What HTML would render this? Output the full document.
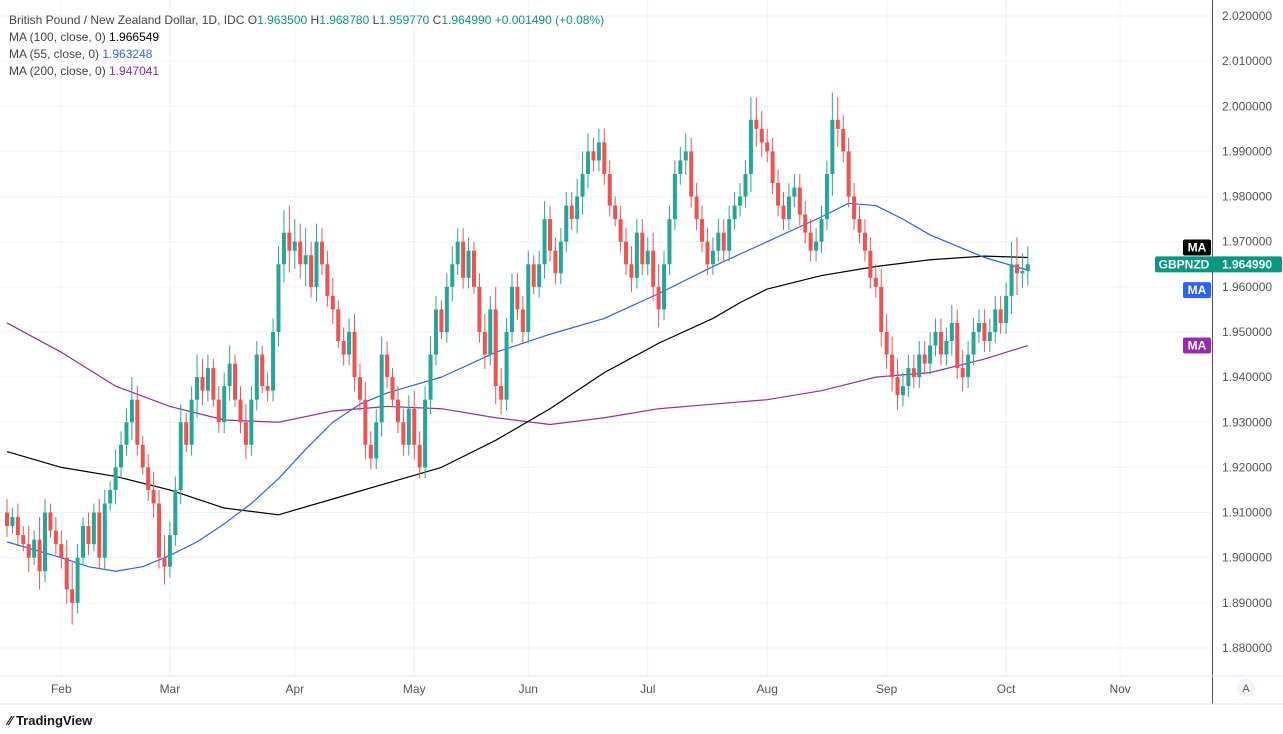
<!DOCTYPE html>
<html><head><meta charset="utf-8">
<style>
html,body{margin:0;padding:0;background:#fff;width:1283px;height:734px;overflow:hidden;font-family:"Liberation Sans",sans-serif;}
svg text{font-family:"Liberation Sans",sans-serif;}
</style></head>
<body>
<svg id="chart" width="1283" height="734" xmlns="http://www.w3.org/2000/svg">
<g id="grid"></g>
<g id="ma-lines"></g>
<g id="candles"></g>
<g id="yaxis"></g>
<g id="xaxis"></g>
<g font-size="12">
<text x="9" y="24" fill="#444">British Pound / New Zealand Dollar, 1D, IDC  <tspan fill="#444">O</tspan><tspan fill="#089981">1.963500</tspan><tspan fill="#444">  H</tspan><tspan fill="#089981">1.968780</tspan><tspan fill="#444">  L</tspan><tspan fill="#089981">1.959770</tspan><tspan fill="#444">  C</tspan><tspan fill="#089981">1.964990  +0.001490 (+0.08%)</tspan></text>
<text x="9" y="41" fill="#444">MA (100, close, 0)  <tspan fill="#000">1.966549</tspan></text>
<text x="9" y="58" fill="#444">MA (55, close, 0)  <tspan fill="#2962ff">1.963248</tspan></text>
<text x="9" y="75" fill="#444">MA (200, close, 0)  <tspan fill="#9c27b0">1.947041</tspan></text>
</g>
<g>
<line x1="0" y1="676" x2="1283" y2="676" stroke="#e0e3eb"/>
<line x1="0" y1="704" x2="1283" y2="704" stroke="#e0e3eb"/>
<circle cx="1246" cy="688" r="9" fill="#f0f3fa"/>
<text x="1246" y="692" font-size="11" text-anchor="middle" fill="#555">A</text>
<text x="8" y="725" font-size="13" fill="#131722" font-weight="bold">⁄⁄ TradingView</text>
</g>
</svg>
<script>
const closes=[1.907,1.909,1.905,1.903,1.900,1.904,1.897,1.910,1.906,1.903,
1.900,1.893,1.890,1.900,1.907,1.903,1.910,1.900,1.912,1.915,1.920,1.925,1.930,1.935,1.925,1.920,1.915,1.912,1.900,1.898,
1.905,1.915,1.930,1.925,1.935,1.940,1.937,1.942,1.935,1.930,1.938,1.943,1.935,1.930,1.925,1.935,1.945,1.938,1.937,1.950,1.965,1.972,1.968,
1.970,1.965,1.967,1.960,1.970,1.965,1.958,1.955,1.948,1.945,1.950,1.940,1.935,1.925,1.922,1.930,1.945,1.940,1.935,1.930,1.925,
1.933,1.925,1.920,1.935,1.945,1.955,1.950,1.960,1.965,1.970,1.962,1.968,1.960,1.950,1.945,1.955,1.938,1.935,1.950,1.960,1.955,
1.950,1.965,1.960,1.965,1.975,1.968,1.963,1.970,1.978,1.975,1.980,1.985,1.990,1.988,1.992,1.985,1.978,1.975,1.970,1.965,1.962,1.972,
1.965,1.968,1.960,1.955,1.965,1.975,1.985,1.988,1.990,1.980,1.975,1.970,1.965,1.968,1.972,1.968,1.975,1.978,1.980,1.985,1.997,
1.995,1.992,1.990,1.983,1.978,1.975,1.980,1.982,1.976,1.972,1.968,1.970,1.975,1.985,1.997,1.995,1.990,1.980,1.975,1.972,1.968,1.962,1.960,
1.950,1.945,1.940,1.936,1.938,1.942,1.940,1.945,1.943,1.947,1.950,1.945,1.948,1.952,1.942,1.940,1.945,1.950,1.952,1.948,1.950,1.955,
1.952,1.958,1.965,1.963,1.9635,1.96499];
const wicks=[3,2,3,2,4,2,5,3,2,3, 3,4,6,3,2,3,2,3,3,2,4,3,3,5,3,2,3,4,3,5,
3,3,4,2,3,5,4,3,2,3,3,4,2,3,4,3,3,2,3,3,4,5,6,
5,4,6,3,4,3,3,4,2,3,3,4,3,4,3,3,4,3,2,3,3,
3,4,3,3,4,3,2,3,4,3,3,3,2,3,4,3,5,4,3,3,3,
3,3,2,3,4,3,3,3,3,3,4,5,4,3,3,3,3,2,3,3,4,3,
3,3,4,5,3,3,3,3,4,3,3,3,3,3,3,3,3,3,3,3,5,
5,4,3,3,3,3,3,3,3,3,3,3,3,3,6,5,3,3,3,3,3,3,3,
4,4,4,4,3,3,3,3,3,3,3,3,3,4,3,4,3,3,3,3,3,3,
3,3,5,6,4,4];
const firstOpen=1.910;
const ma100Idx=[0,10,20,30,40,50,60,70,80,90,100,110,120,130,135,140,145,150,160,170,180,188];
const ma100=[1.9235,1.920,1.918,1.915,1.911,1.9095,1.913,1.9165,1.920,1.926,1.933,1.941,1.9475,1.953,1.9565,1.9595,1.961,1.9625,1.9645,1.966,1.9668,1.9665];
const ma55Idx=[0,10,15,20,25,30,35,40,45,50,55,60,65,70,80,90,100,110,120,130,140,150,155,160,165,170,175,180,188];
const ma55=[1.9035,1.900,1.898,1.897,1.898,1.9005,1.9035,1.9075,1.912,1.9175,1.924,1.930,1.934,1.9365,1.940,1.9455,1.9495,1.953,1.9585,1.9645,1.970,1.9755,1.9785,1.978,1.975,1.9715,1.969,1.9665,1.9637];
const ma200Idx=[0,10,20,30,40,50,60,70,80,90,100,110,120,130,140,150,160,170,180,188];
const ma200=[1.952,1.9455,1.938,1.9335,1.9305,1.930,1.9325,1.9335,1.933,1.931,1.9295,1.931,1.933,1.934,1.935,1.937,1.940,1.941,1.944,1.947];
const yTicks=[2.02,2.01,2.00,1.99,1.98,1.97,1.96,1.95,1.94,1.93,1.92,1.91,1.90,1.89,1.88];
const months=["Feb","Mar","Apr","May","Jun","Jul","Aug","Sep","Oct","Nov"];
const monthIdx=[10,30,53,75,96,118,140,162,184,205];

const NS="http://www.w3.org/2000/svg";
const y=p=>16+(2.02-p)*4514;
const x=i=>7+i*5.43;
function mk(tag,attrs,parent){const e=document.createElementNS(NS,tag);for(const k in attrs)e.setAttribute(k,attrs[k]);parent.appendChild(e);return e;}
const grid=document.getElementById('grid'),yax=document.getElementById('yaxis'),xax=document.getElementById('xaxis');
mk('rect',{x:1212,y:0,width:71,height:676,fill:'#fff'},yax);
mk('line',{x1:1212.5,y1:0,x2:1212.5,y2:704,stroke:'#555'},yax);
yTicks.forEach(t=>{
 const l=mk('line',{x1:0,y1:y(t),x2:1212,y2:y(t),stroke:'#eef1f6'},grid);
 
 
 const tx=mk('text',{x:1222,y:y(t)+4,'font-size':12,fill:'#555'},yax);
 tx.textContent=t.toFixed(6);
 
 
});
months.forEach((m,k)=>{
 const xx=x(monthIdx[k]);
 const l=mk('line',{x1:xx,y1:0,x2:xx,y2:676,stroke:'#eef1f6'},grid);
 
 
 const tx=mk('text',{x:xx,y:693,'font-size':12,fill:'#555','text-anchor':'middle'},xax);
 tx.textContent=m;
 
 
});
const ml=document.getElementById('ma-lines');
[[ma200Idx,ma200,'#9c27b0','ma200-line'],[ma100Idx,ma100,'#000','ma100-line'],[ma55Idx,ma55,'#2962ff','ma55-line']].forEach(([idx,arr,c,n])=>{
 const pts=arr.map((v,k)=>x(idx[k])+','+y(v)).join(' ');
 const p=mk('polyline',{points:pts,fill:'none',stroke:c,'stroke-width':1.2,'stroke-linejoin':'round'},ml);
 
 
});
const cg=document.getElementById('candles');
closes.forEach((c,i)=>{
 const o=i===0?firstOpen:closes[i-1];
 const up=c>=o, col=up?'#26a69a':'#ef5350';
 const hi=Math.max(o,c)+wicks[i]*0.001, lo=Math.min(o,c)-wicks[i]*0.001*0.8;
 const g=mk('g',{},cg);
 
 
 mk('line',{x1:x(i),y1:y(hi),x2:x(i),y2:y(lo),stroke:col,'stroke-width':1},g);
 const top=y(Math.max(o,c)),h=Math.max(1,y(Math.min(o,c))-top);
 mk('rect',{x:x(i)-2,y:top,width:4,height:h,fill:col},g);
});
function tag(yy,w,x0,bg,txt,name){
 const g=mk('g',{},yax);
 
 
 mk('rect',{x:x0,y:yy-8,width:w,height:16,fill:bg,rx:2},g);
 const t=mk('text',{x:x0+w/2,y:yy+4,'font-size':12,fill:'#fff','text-anchor':'middle','font-weight':'bold'},g);
 t.textContent=txt;
}
tag(y(ma100[ma100.length-1])-10,28,1183,'#000','MA','ma100-tag');
tag(y(closes[closes.length-1]),58,1155,'#089981','GBPNZD','symbol-tag');
tag(y(closes[closes.length-1]),70,1212,'#089981','1.964990','last-price-label');
tag(y(ma55[ma55.length-1])+20,28,1183,'#2962ff','MA','ma55-tag');
tag(y(ma200[ma200.length-1]),28,1183,'#9c27b0','MA','ma200-tag');
</script>
</body></html>
